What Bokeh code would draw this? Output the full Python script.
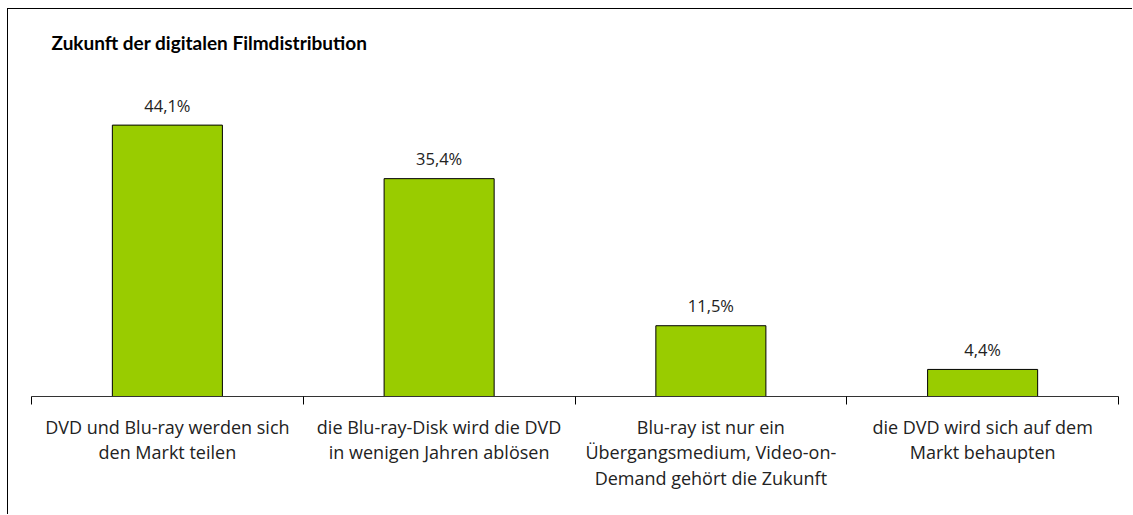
from bokeh.plotting import figure
from bokeh.models import ColumnDataSource, FixedTicker, Range1d, Label
from bokeh.core.properties import value
from bokeh.embed import file_html
from bokeh.resources import INLINE

title_text = "Zukunft der digitalen Filmdistribution"
categories = [
    "DVD und Blu-ray werden sich\nden Markt teilen",
    "die Blu-ray-Disk wird die DVD\nin wenigen Jahren ablösen",
    "Blu-ray ist nur ein\nÜbergangsmedium, Video-on-\nDemand gehört die Zukunft",
    "die DVD wird sich auf dem\nMarkt behaupten",
]
values = [44.1, 35.4, 11.5, 4.4]
value_labels = ["44,1%", "35,4%", "11,5%", "4,4%"]

n = len(categories)
xs = [i + 0.5 for i in range(n)]
src = ColumnDataSource(dict(x=xs, top=values, lab=value_labels))

W, H = 1125, 506
p = figure(width=W, height=H, output_backend="svg", toolbar_location=None,
           x_range=Range1d(0, n), y_range=Range1d(0, 61.1),
           min_border_left=23, min_border_right=15, min_border_top=11,
           min_border_bottom=119, title=None)
p.margin = (8, 0, 0, 7)
p.styles = {"border-left": "1px solid black", "border-top": "1px solid black"}

p.vbar(x="x", top="top", width=0.405, bottom=0, source=src,
       fill_color="#99CC00", line_color="black", line_width=1)

p.text(x="x", y="top", text="lab", source=src, y_offset=-20,
       text_align="center", text_baseline="alphabetic",
       text_font=value("Open Sans"), text_font_size="16.5px", text_color="#222222")

p.add_layout(Label(x=0.0736, y=57.5, text=title_text, text_font="Lato",
                   text_font_style="bold", text_font_size="19px",
                   text_baseline="alphabetic", text_color="black"))

ax = p.xaxis[0]
ax.ticker = FixedTicker(ticks=xs, minor_ticks=list(range(n + 1)))
ax.major_label_overrides = {x: c for x, c in zip(xs, categories)}
ax.major_tick_line_color = None
ax.major_tick_out = 8
ax.major_tick_in = 0
ax.minor_tick_line_color = "black"
ax.minor_tick_out = 8
ax.minor_tick_in = 0
ax.axis_line_color = "#333333"
ax.axis_line_width = 1
ax.major_label_standoff = 10
ax.major_label_text_font = "Open Sans"
ax.major_label_text_font_size = "18px"
ax.major_label_text_color = "#222222"
ax.major_label_text_line_height = 1.08
ax.major_label_orientation = "horizontal"

p.yaxis.visible = False
p.xgrid.visible = False
p.ygrid.visible = False
p.outline_line_color = None

open("out.html", "w").write(file_html(p, INLINE))
